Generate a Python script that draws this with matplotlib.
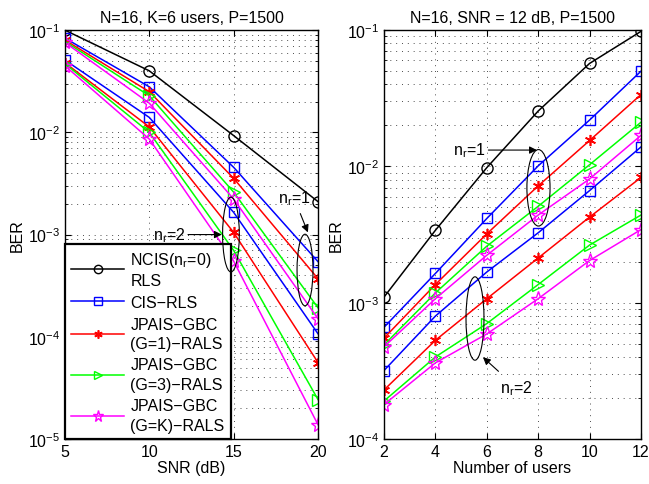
import numpy as np
import matplotlib
matplotlib.use("Agg")
from matplotlib import pyplot as plt
from matplotlib.patches import Ellipse

plt.rcParams['font.family'] = ['Liberation Sans', 'DejaVu Sans']
plt.rcParams['mathtext.default'] = 'regular'
plt.rcParams['font.size'] = 11

# left panel: BER vs SNR, K=6 users
snr = [5, 10, 15, 20]
ncis_snr = [0.1, 0.040, 0.0093, 0.0021]
cis1_snr = [0.0835, 0.0279, 0.00455, 0.000543]
cis2_snr = [0.051, 0.014, 0.00165, 0.000107]
g1_1_snr = [0.080, 0.025, 0.00355, 0.00037]
g1_2_snr = [0.048, 0.0113, 0.00105, 5.6e-5]
g3_1_snr = [0.0776, 0.0228, 0.0026, 1.92e-4]
g3_2_snr = [0.047, 0.0100, 0.0007, 2.43e-5]
gk_1_snr = [0.0758, 0.0193, 0.00223, 1.5e-4]
gk_2_snr = [0.0448, 0.0086, 0.00055, 1.38e-5]

# right panel: BER vs number of users, SNR=12 dB
users = [2, 4, 6, 8, 10, 12]
ncis_k = [0.0011, 0.0034, 0.0098, 0.0255, 0.057, 0.098]
cis1_k = [0.00066, 0.00164, 0.00415, 0.0101, 0.0219, 0.050]
cis2_k = [0.000318, 0.000798, 0.00168, 0.00326, 0.00665, 0.0139]
g1_1_k = [0.00055, 0.00136, 0.0032, 0.0072, 0.0155, 0.0337]
g1_2_k = [0.000229, 0.00053, 0.00107, 0.00213, 0.00425, 0.0083]
g3_1_k = [0.00049, 0.00118, 0.0026, 0.0051, 0.0103, 0.0211]
g3_2_k = [0.00019, 0.0004, 0.000703, 0.00136, 0.00265, 0.0044]
gk_1_k = [0.000475, 0.00107, 0.00223, 0.0044, 0.0081, 0.0169]
gk_2_k = [0.000179, 0.000362, 0.00059, 0.00107, 0.00204, 0.00344]

labels = ['NCIS(n$_r$=0)\nRLS', 'CIS\u2212RLS', 'JPAIS\u2212GBC\n(G=1)\u2212RALS',
          'JPAIS\u2212GBC\n(G=3)\u2212RALS', 'JPAIS\u2212GBC\n(G=K)\u2212RALS']

asterisk = (6, 2, 0)
styles = [
    dict(color='k', marker='o', ms=8, mfc='none'),
    dict(color='#0000ff', marker='s', ms=7.5, mfc='none'),
    dict(color='#ff0000', marker=asterisk, ms=8, mew=1.2),
    dict(color='#00ff00', marker='>', ms=8.5, mfc='none'),
    dict(color='#ff00ff', marker='*', ms=11, mfc='none'),
]

FS = 11.5
fig = plt.figure(figsize=(6.49, 4.85), dpi=100)
ax1 = fig.add_axes([0.100, 0.0928, 0.390, 0.843])
ax2 = fig.add_axes([0.5917, 0.0928, 0.396, 0.843])


def style_axes(ax):
    ax.set_yscale('log')
    ax.tick_params(which='both', direction='in', top=True, right=True, labelsize=FS)
    ax.tick_params(which='major', length=4)
    ax.tick_params(which='minor', length=2)
    ax.grid(True, which='major', axis='both', linestyle=(0, (1, 5)), color='0.3', linewidth=0.7)
    ax.grid(True, which='minor', axis='y', linestyle=(0, (1, 5)), color='0.3', linewidth=0.7)
    for s in ax.spines.values():
        s.set_linewidth(1.0)


def add_ellipse(ax, x, y, w, h):
    cx, cy = (ax.transData + ax.transAxes.inverted()).transform((x, y))
    ax.add_patch(Ellipse((cx, cy), w, h, transform=ax.transAxes,
                         fill=False, edgecolor='k', linewidth=0.8, zorder=6))


def arrow_note(ax, text, xy, xytext, shrink_a=0):
    ax.annotate(text, xy=xy, xytext=xytext, fontsize=FS, va='center',
                arrowprops=dict(arrowstyle='-|>', color='k', lw=0.8, mutation_scale=11,
                                shrinkA=shrink_a, shrinkB=0))


# left
series1 = [ncis_snr, cis1_snr, g1_1_snr, g3_1_snr, gk_1_snr]
series2 = [None, cis2_snr, g1_2_snr, g3_2_snr, gk_2_snr]
handles = []
for i, st in enumerate(styles):
    h, = ax1.plot(snr, series1[i], linewidth=1.1, label=labels[i], **st)
    handles.append(h)
    if series2[i] is not None:
        ax1.plot(snr, series2[i], linewidth=1.1, **st)
style_axes(ax1)
ax1.set_xlim(5, 20)
ax1.set_ylim(1e-5, 1e-1)
ax1.set_xticks([5, 10, 15, 20])
ax1.set_title('N=16, K=6 users, P=1500', fontsize=FS, pad=6)
ax1.set_xlabel('SNR (dB)', fontsize=FS, labelpad=1)
ax1.set_ylabel('BER', fontsize=FS, labelpad=2)

add_ellipse(ax1, 14.84, 1.0e-3, 0.066, 0.183)
add_ellipse(ax1, 19.23, 4.5e-4, 0.063, 0.175)
arrow_note(ax1, 'n$_r$=2', (14.3, 1.0e-3), (10.2, 1.0e-3))
arrow_note(ax1, 'n$_r$=1', (19.4, 1.05e-3), (17.6, 2.3e-3), shrink_a=3)

leg = ax1.legend(handles=handles, loc='lower left', borderaxespad=0, fontsize=FS,
                 handlelength=3.3, labelspacing=0.42, fancybox=False, markerscale=0.75,
                 edgecolor='k', framealpha=1, borderpad=0.4, handletextpad=0.4)
leg.get_frame().set_linewidth(1.6)
leg.set_zorder(5)
for t in leg.get_texts():
    t.set_linespacing(1.35)

# right
series1 = [ncis_k, cis1_k, g1_1_k, g3_1_k, gk_1_k]
series2 = [None, cis2_k, g1_2_k, g3_2_k, gk_2_k]
for i, st in enumerate(styles):
    ax2.plot(users, series1[i], linewidth=1.1, **st)
    if series2[i] is not None:
        ax2.plot(users, series2[i], linewidth=1.1, **st)
style_axes(ax2)
ax2.set_xlim(2, 12)
ax2.set_ylim(1e-4, 1e-1)
ax2.set_xticks([2, 4, 6, 8, 10, 12])
ax2.set_title('N=16, SNR = 12 dB, P=1500', fontsize=FS, pad=6)
ax2.set_xlabel('Number of users', fontsize=FS, labelpad=1)
ax2.set_ylabel('BER', fontsize=FS, labelpad=2)

add_ellipse(ax2, 8.01, 10 ** -2.157, 0.09, 0.187)
add_ellipse(ax2, 5.54, 10 ** -3.116, 0.07, 0.204)
arrow_note(ax2, 'n$_r$=1', (7.95, 10 ** -1.88), (4.68, 10 ** -1.88))
arrow_note(ax2, 'n$_r$=2', (5.85, 10 ** -3.40), (6.5, 10 ** -3.62), shrink_a=4)

fig.savefig('out.png', dpi=100)
